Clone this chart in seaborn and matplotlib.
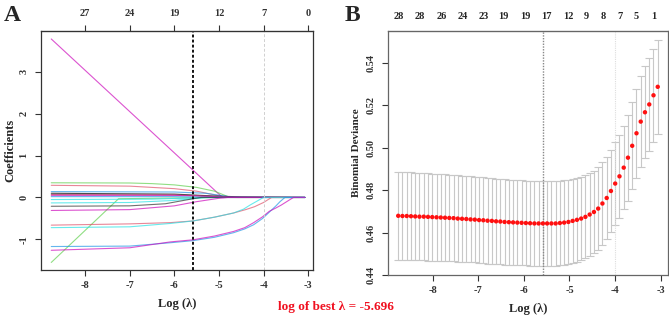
import matplotlib
matplotlib.use('Agg')
import matplotlib.pyplot as plt
import numpy as np
import pandas as pd
import seaborn as sns

# ---- panel A: lasso coefficient paths, knots (log lambda, coef) ----
coef_path_01 = [(-8.76, 3.78), (-5.58, 0.65), (-4.92, 0.0), (-3.07, 0.0)]
coef_path_02 = [(-8.76, -1.55), (-7.25, -0.03), (-5.0, 0.0), (-3.07, 0.0)]
coef_path_03 = [(-8.76, 0.35), (-7.0, 0.345), (-6.5, 0.33), (-6.0, 0.30), (-5.5, 0.24),
                (-5.1, 0.15), (-4.75, 0.0), (-3.07, 0.0)]
coef_path_04 = [(-8.76, 0.29), (-7.0, 0.27), (-6.0, 0.21), (-5.5, 0.15), (-5.0, 0.04),
                (-4.9, 0.0), (-3.07, 0.0)]
coef_path_05 = [(-8.76, 0.14), (-6.0, 0.13), (-5.3, 0.10), (-4.65, 0.0), (-3.07, 0.0)]
coef_path_06 = [(-8.76, 0.10), (-6.0, 0.08), (-5.0, 0.03), (-4.5, 0.015), (-3.07, 0.0)]
coef_path_07 = [(-8.76, 0.07), (-6.0, 0.06), (-5.0, 0.02), (-4.6, 0.0), (-3.07, 0.0)]
coef_path_08 = [(-8.76, 0.05), (-6.0, 0.05), (-4.8, 0.01), (-3.07, 0.0)]
coef_path_09 = [(-8.76, 0.02), (-6.0, 0.02), (-5.2, 0.0), (-3.07, 0.0)]
coef_path_10 = [(-8.76, -0.05), (-6.5, -0.04), (-5.5, -0.01), (-5.0, 0.0), (-3.07, 0.0)]
coef_path_11 = [(-8.76, -0.13), (-7.0, -0.12), (-6.0, -0.07), (-5.3, 0.0), (-3.07, 0.0)]
coef_path_12 = [(-8.76, -0.21), (-7.0, -0.20), (-6.2, -0.15), (-5.58, -0.03), (-5.4, 0.0),
                (-3.07, 0.0)]
coef_path_13 = [(-8.76, -0.31), (-7.0, -0.29), (-6.0, -0.20), (-5.5, -0.10), (-5.0, -0.02),
                (-4.8, 0.0), (-3.07, 0.0)]
coef_path_14 = [(-8.76, -0.66), (-7.0, -0.63), (-6.09, -0.60), (-5.58, -0.56), (-5.1, -0.47),
                (-4.67, -0.37), (-4.4, -0.29), (-4.2, -0.22), (-4.0, -0.12), (-3.82, 0.0),
                (-3.07, 0.0)]
coef_path_15 = [(-8.76, -0.72), (-7.0, -0.70), (-6.09, -0.62), (-5.58, -0.56), (-5.1, -0.47),
                (-4.67, -0.37), (-4.45, -0.28), (-4.3, -0.18), (-4.15, -0.09), (-4.0, 0.0),
                (-3.07, 0.0)]
coef_path_16 = [(-8.76, -1.17), (-7.0, -1.16), (-6.09, -1.08), (-5.58, -1.03), (-5.1, -0.95),
                (-4.67, -0.84), (-4.42, -0.75), (-4.22, -0.65), (-4.02, -0.50), (-3.87, -0.35),
                (-3.72, -0.20), (-3.63, -0.10), (-3.52, 0.0), (-3.07, 0.0)]
coef_path_17 = [(-8.76, -1.26), (-7.0, -1.20), (-6.09, -1.06), (-5.58, -1.01), (-5.1, -0.92),
                (-4.67, -0.81), (-4.42, -0.72), (-4.22, -0.60), (-4.02, -0.46), (-3.87, -0.33),
                (-3.72, -0.25), (-3.6, -0.18), (-3.45, -0.08), (-3.33, 0.0), (-3.07, 0.0)]

coef_top_pos = [-8, -7, -6, -5, -4, -3]
coef_top_lab = ['27', '24', '19', '12', '7', '0']

# ---- panel B: cross-validated binomial deviance ----
log_lambda = [-8.756, -8.663, -8.569, -8.476, -8.383, -8.290, -8.196, -8.103, -8.010, -7.916,
              -7.823, -7.730, -7.636, -7.543, -7.450, -7.357, -7.263, -7.170, -7.077, -6.983,
              -6.890, -6.797, -6.703, -6.610, -6.517, -6.424, -6.330, -6.237, -6.144, -6.050,
              -5.957, -5.864, -5.770, -5.677, -5.584, -5.491, -5.397, -5.304, -5.211, -5.117,
              -5.024, -4.931, -4.837, -4.744, -4.651, -4.558, -4.464, -4.371, -4.278, -4.184,
              -4.091, -3.998, -3.904, -3.811, -3.718, -3.625, -3.531, -3.438, -3.345, -3.251,
              -3.158, -3.065]
cv_mean = [0.4679, 0.4678, 0.4678, 0.4677, 0.4676, 0.4675, 0.4675, 0.4674, 0.4673, 0.4672,
           0.4671, 0.4670, 0.4669, 0.4668, 0.4666, 0.4665, 0.4664, 0.4662, 0.4661, 0.4659,
           0.4658, 0.4656, 0.4655, 0.4653, 0.4652, 0.4650, 0.4649, 0.4648, 0.4647, 0.4646,
           0.4645, 0.4644, 0.4643, 0.4643, 0.4643, 0.4643, 0.4643, 0.4643, 0.4645, 0.4647,
           0.4650, 0.4655, 0.4660, 0.4666, 0.4674, 0.4685, 0.4697, 0.4713, 0.4737, 0.4763,
           0.4796, 0.4831, 0.4865, 0.4906, 0.4953, 0.5009, 0.5068, 0.5123, 0.5167, 0.5204,
           0.5247, 0.5287]
cv_se = [0.0208, 0.0208, 0.0207, 0.0207, 0.0207, 0.0206, 0.0206, 0.0206, 0.0205, 0.0205,
         0.0205, 0.0204, 0.0204, 0.0204, 0.0203, 0.0203, 0.0203, 0.0203, 0.0202, 0.0202,
         0.0202, 0.0202, 0.0201, 0.0201, 0.0201, 0.0201, 0.0201, 0.0200, 0.0200, 0.0200,
         0.0200, 0.0200, 0.0200, 0.0200, 0.0200, 0.0200, 0.0200, 0.0200, 0.0199, 0.0199,
         0.0198, 0.0198, 0.0197, 0.0197, 0.0196, 0.0196, 0.0195, 0.0195, 0.0195, 0.0195,
         0.0195, 0.0195, 0.0195, 0.0197, 0.0202, 0.0206, 0.0210, 0.0213, 0.0216, 0.0218,
         0.0219, 0.0221]
cv_top_pos = [-8.744, -8.284, -7.81, -7.35, -6.88, -6.45, -5.97, -5.50, -5.02, -4.64,
              -4.27, -3.90, -3.53, -3.16]
cv_top_lab = ['28', '28', '26', '24', '23', '19', '19', '17', '12', '9', '8', '7', '5', '1']

lambda_min_line = -5.58
lambda_1se_line = -4.0
best_text = 'log of best \u03bb = -5.696'


def main():
    sns.set_style('ticks')
    plt.rcParams['font.family'] = ['Liberation Serif', 'DejaVu Serif']
    plt.rcParams['font.weight'] = 'bold'
    plt.rcParams['axes.labelweight'] = 'bold'
    plt.rcParams['axes.unicode_minus'] = False

    fig = plt.figure(figsize=(6.69, 3.15), dpi=100)
    ax_a = fig.add_axes([41 / 669, 45 / 315, 272 / 669, 239 / 315])
    ax_b = fig.add_axes([388 / 669, 40 / 315, 280 / 669, 244 / 315])

    # --- A ---
    paths = [coef_path_01, coef_path_02, coef_path_03, coef_path_04, coef_path_05,
             coef_path_06, coef_path_07, coef_path_08, coef_path_09, coef_path_10,
             coef_path_11, coef_path_12, coef_path_13, coef_path_14, coef_path_15,
             coef_path_16, coef_path_17]
    path_colors = ['#CD0BBC', '#61D04F', '#61D04F', '#DF536B', '#2297E6',
                   '#000000', '#B0304A', '#CD0BBC', '#2297E6', '#28E2E5',
                   '#28E2E5', '#333333', '#CD0BBC', '#DF536B', '#28E2E5',
                   '#2297E6', '#CD0BBC']
    rows = []
    for k, p in enumerate(paths):
        for x, y in p:
            rows.append({'path': f'V{k + 1}', 'log_lambda': x, 'coef': y})
    df_a = pd.DataFrame(rows)
    pal = {f'V{k + 1}': c for k, c in enumerate(path_colors)}
    sns.lineplot(data=df_a, x='log_lambda', y='coef', hue='path', palette=pal,
                 estimator=None, sort=False, legend=False, lw=0.8, alpha=0.7, ax=ax_a)
    ax_a.axvline(lambda_min_line, color='black', lw=1.3, ls=(0, (1.6, 1.2)))
    ax_a.axvline(lambda_1se_line, color='#D0D0D0', lw=0.7, ls=(0, (3, 2)))
    ax_a.set_xlim(-8.99, -2.89)
    ax_a.set_ylim(-1.73, 3.97)
    ax_a.set_xticks([-8, -7, -6, -5, -4, -3])
    ax_a.set_yticks([-1, 0, 1, 2, 3])
    ax_a.set_xlabel('Log (\u03bb)', fontsize=9, labelpad=6)
    ax_a.set_ylabel('Coefficients', fontsize=9, labelpad=2)
    top_a = ax_a.secondary_xaxis('top')
    top_a.set_xticks(coef_top_pos, labels=coef_top_lab)
    top_a.tick_params(length=4, width=0.8, colors='#333333', labelsize=7.5, pad=5)
    for lab in top_a.get_xticklabels():
        lab.set_fontweight('bold')

    # --- B ---
    df_b = pd.DataFrame({'log_lambda': log_lambda, 'deviance': cv_mean, 'se': cv_se})
    ax_b.errorbar(df_b['log_lambda'], df_b['deviance'], yerr=df_b['se'], fmt='none',
                  ecolor='#C8C8C8', elinewidth=0.8, capsize=3, capthick=0.8, zorder=1)
    sns.scatterplot(data=df_b, x='log_lambda', y='deviance', color='#FF1010', s=10,
                    edgecolor='none', ax=ax_b, zorder=3)
    ax_b.axvline(lambda_min_line, color='#888888', lw=1.0, ls=(0, (1, 1)))
    ax_b.axvline(lambda_1se_line, color='#DDDDDD', lw=0.8, ls=(0, (1, 1)))
    ax_b.set_xlim(-8.98, -2.84)
    ax_b.set_ylim(0.44, 0.555)
    ax_b.set_xticks([-8, -7, -6, -5, -4, -3])
    ax_b.set_yticks([0.44, 0.46, 0.48, 0.50, 0.52, 0.54])
    ax_b.set_yticklabels(['0.44', '0.46', '0.48', '0.50', '0.52', '0.54'])
    ax_b.set_xlabel('Log (\u03bb)', fontsize=9, labelpad=6)
    ax_b.set_ylabel('Binomial Deviance', fontsize=8, labelpad=4)
    top_b = ax_b.secondary_xaxis('top')
    top_b.set_xticks(cv_top_pos, labels=cv_top_lab)
    top_b.tick_params(length=0, labelsize=7.5, pad=7)
    for lab in top_b.get_xticklabels():
        lab.set_fontweight('bold')

    for ax, spc in ((ax_a, '#333333'), (ax_b, '#666666')):
        for s in ax.spines.values():
            s.set_visible(True)
            s.set_color(spc)
            s.set_linewidth(0.9)
        ax.tick_params(axis='both', length=4, width=0.8, colors='#333333',
                       labelsize=7.5, pad=4, direction='out')
        ax.tick_params(axis='y', labelrotation=90, pad=5)
        for lab in ax.get_yticklabels():
            lab.set_va('center')
            lab.set_fontweight('bold')
        for lab in ax.get_xticklabels():
            lab.set_fontweight('bold')
    top_b.spines['top'].set_color('#666666')
    top_a.spines['top'].set_color('#333333')

    fig.text(0.005, 0.985, 'A', fontsize=17, fontweight='bold', va='top', ha='left')
    fig.text(345 / 669, 0.985, 'B', fontsize=17, fontweight='bold', va='top', ha='left')
    fig.text(336 / 669, 1 - 307 / 315, best_text, color='#F01020', fontsize=9.5,
             fontweight='bold', ha='center', va='center')

    fig.savefig('out.png', dpi=100)
    plt.close(fig)


if __name__ == '__main__':
    main()
